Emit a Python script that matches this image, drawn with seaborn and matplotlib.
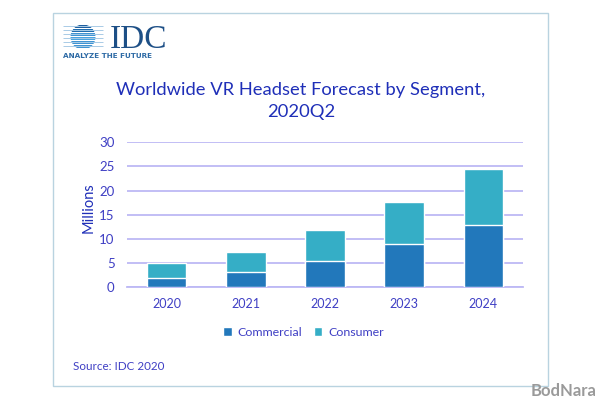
import matplotlib
matplotlib.use("Agg")
import matplotlib.pyplot as plt
from matplotlib.patches import Circle, Rectangle
import numpy as np
import pandas as pd
import seaborn as sns

years = ["2020", "2021", "2022", "2023", "2024"]
commercial = [1.9, 3.1, 5.4, 9.0, 12.8]
consumer = [3.2, 4.3, 6.5, 8.7, 11.6]
y_ticks = [0, 5, 10, 15, 20, 25, 30]

COMM_COLOR = "#2278bb"
CONS_COLOR = "#35aec6"
GRID_COLOR = "#bdb9f5"
TEXT_COLOR = "#3f3fc4"
TITLE_COLOR = "#1f2fb8"
FRAME_COLOR = "#b9d3e0"

sns.set_theme(style="white")
plt.rcParams["font.family"] = ["Lato", "DejaVu Sans"]

W, H = 600, 400
fig = plt.figure(figsize=(6, 4), dpi=100, facecolor="white")

# overlay in pixel coordinates for frame, logo and free text
bg = fig.add_axes([0, 0, 1, 1])
bg.set_xlim(0, W)
bg.set_ylim(H, 0)
bg.axis("off")
bg.add_patch(Rectangle((53, 13), 494.5, 373, fill=False, ec=FRAME_COLOR, lw=1))

# logo: striped globe
globe = Circle((83, 37), 12.5, transform=bg.transData)
band_colors = ["#1f5f9f", "#1f6cae", "#3f93d2", "#4aa3e0", "#3f93d2", "#3f93d2"]
for band_y, band_color in zip(np.arange(24.5, 49, 4.0), band_colors):
    band = bg.add_patch(Rectangle((70, band_y), 26, 3.0, fc=band_color, ec="none"))
    band.set_clip_path(globe)
bg.hlines(np.arange(26, 50, 4.0), 63, 103, color="#a9cbe6", lw=0.7)
bg.text(109.5, 47.5, "IDC", family=["Liberation Serif"], fontsize=24, color="#1d4f86",
        ha="left", va="baseline")
bg.text(63, 55.5, "ANALYZE THE FUTURE", family=["DejaVu Sans"], fontsize=5.2,
        fontweight="bold", color="#2d6aa5", ha="left", va="center")

bg.text(301, 101, "Worldwide VR Headset Forecast by Segment,\n2020Q2", fontsize=13.2,
        color=TITLE_COLOR, ha="center", va="center", linespacing=1.45)
bg.text(73, 367, "Source: IDC 2020", fontsize=8.4, color=TEXT_COLOR, ha="left", va="center")

# watermark
bg.text(563.5, 391, "BodNara", fontsize=12, fontweight="bold", color="#9a9a9a",
        ha="center", va="center")

# chart axes, placed on the reference's pixel box
left, right, top, bottom = 127, 523, 142.3, 287.3
ax = fig.add_axes([left / W, 1 - bottom / H, (right - left) / W, (bottom - top) / H])
ax.patch.set_alpha(0)

df = pd.DataFrame({"year": years, "Commercial": commercial, "Consumer": consumer})
df["total"] = df["Commercial"] + df["Consumer"]

sns.barplot(data=df, x="year", y="total", color=CONS_COLOR, width=0.5, saturation=1,
            ax=ax, label="Consumer", zorder=3)
sns.barplot(data=df, x="year", y="Commercial", color=COMM_COLOR, width=0.5, saturation=1,
            ax=ax, label="Commercial", zorder=3)

ax.set_xlim(-0.5, 4.5)
ax.set_ylim(0, 30)
ax.set_yticks(y_ticks)
ax.set_xlabel("")
ax.set_ylabel("Millions", fontsize=10.5, color=TITLE_COLOR)
ax.yaxis.set_label_coords(-0.078, 0.55)
ax.grid(axis="y", color=GRID_COLOR, lw=1.3, zorder=0)
ax.set_axisbelow(True)
sns.despine(ax=ax, left=True, top=True, right=True)
ax.spines["bottom"].set_color(GRID_COLOR)
ax.spines["bottom"].set_linewidth(1.3)
ax.tick_params(axis="x", length=0, labelsize=9, labelcolor=TEXT_COLOR, pad=8)
ax.tick_params(axis="y", length=0, labelsize=9.5, labelcolor=TEXT_COLOR, pad=9)

handles, labels = ax.get_legend_handles_labels()
order = [labels.index("Commercial"), labels.index("Consumer")]
ax.legend([handles[i] for i in order], [labels[i] for i in order],
          loc="center", bbox_to_anchor=(303.5 / W, 1 - 332 / H), bbox_transform=fig.transFigure,
          ncol=2, frameon=False, fontsize=8.9, labelcolor=TEXT_COLOR,
          handlelength=0.7, handleheight=0.7, handletextpad=0.5, columnspacing=0.9)

fig.savefig("out.png", dpi=100)
